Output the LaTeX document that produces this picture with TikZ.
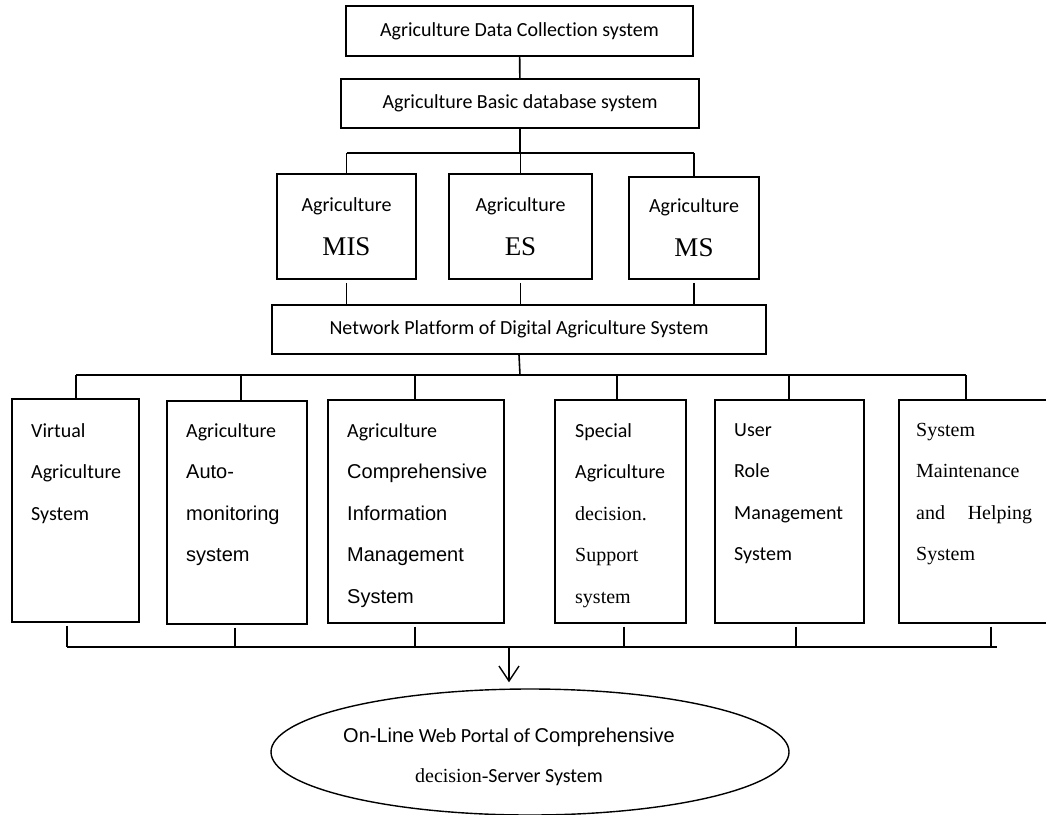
\documentclass[tikz,border=0pt]{standalone}
\usepackage{fontspec}
\setmainfont{Carlito}[Ligatures=NoCommon]
\newfontfamily\arialfont{Liberation Sans}
\newfontfamily\timesfont{Liberation Serif}
\usetikzlibrary{arrows.meta,calc,shapes.geometric,positioning}
\tikzset{
    box/.style={draw, line width=1.6pt, inner sep=0pt, align=center, font=\fontsize{20}{24}\selectfont},
    unit/.style={draw, line width=1.6pt, inner sep=0pt, minimum height=223pt, anchor=north west},
    unittext/.style={anchor=north west, inner sep=0pt, align=left, font=\fontsize{20}{41.5}\selectfont},
    link/.style={line width=1.6pt},
}
\newcommand{\bigabbr}[1]{{\timesfont\fontsize{27}{30}\selectfont #1}}

\begin{document}
\begin{tikzpicture}[x=1pt,y=-1pt]

    \useasboundingbox (0,0) rectangle (1046,814);

    % top chain
    \node[box, minimum width=347pt, minimum height=50pt] (collect) at (519.5,31) {Agriculture Data Collection system};
    \node[box, minimum width=358pt, minimum height=49pt] (basic) at (520,103.5) {Agriculture Basic database system};

    \node[box, minimum width=139pt, minimum height=105pt] (mis) at (346.5,226.5) {Agriculture\\[20pt]\bigabbr{MIS}};
    \node[box, minimum width=143pt, minimum height=105pt] (es) at (520.5,226.5) {Agriculture\\[20pt]\bigabbr{ES}};
    \node[box, minimum width=130pt, minimum height=102pt] (ms) at (694,228) {Agriculture\\[20pt]\bigabbr{MS}};

    \node[box, minimum width=494pt, minimum height=49pt] (net) at (519,329.5) {Network Platform of Digital Agriculture System};

    \draw[link] (collect) -- (basic);

    % bus to the three systems
    \coordinate (tb) at (520,153);
    \draw[link] (basic.south) -- (tb);
    \draw[link] (tb -| mis.north) -- (tb -| ms.north);
    \foreach \n in {mis,es,ms}
        \draw[link] (tb -| \n.north) -- (\n.north);
    \foreach \n in {mis,es,ms}
        \draw[link,shorten <=3pt] (\n.south) -- (\n.south |- net.north);

    % the six subsystems
    \node[unit, minimum width=127pt] (virt) at (11,398) {};
    \node[unit, minimum width=140pt] (auto) at (166,400) {};
    \node[unit, minimum width=176pt] (info) at (327,399) {};
    \node[unit, minimum width=131pt] (spec) at (554,399) {};
    \node[unit, minimum width=149pt] (user) at (714,399) {};
    \node[unit, minimum width=160pt] (maint) at (898,399) {};

    \node[unittext] (virt-t) at ($(virt.north west)+(20,25)$) {Virtual\\Agriculture\\System};
    \node[unittext] (auto-t) at ($(auto.north west)+(20,23)$) {Agriculture\\\arialfont Auto-\\\arialfont monitoring\\\arialfont system};
    \node[unittext] (info-t) at ($(info.north west)+(20,24)$) {Agriculture\\\arialfont Comprehensive\\\arialfont Information\\\arialfont Management\\\arialfont System};
    \node[unittext] (spec-t) at ($(spec.north west)+(21,24)$) {Special\\Agriculture\\\timesfont decision.\\\timesfont Support\\\timesfont system};
    \node[unittext] (user-t) at ($(user.north west)+(20,24)$) {User\\Role\\Management\\System};
    \node[unittext] (maint-t) at ($(maint.north west)+(18,24)$) {\timesfont System\\\timesfont Maintenance\\\timesfont\makebox[116pt][s]{and Helping}\\\timesfont System};

    % bus to the six subsystems
    \coordinate (mb) at (520,375);
    \draw[link] (net.south) -- (mb);
    \draw[link] (76,375) -- (966,375);
    \foreach \n/\x in {virt/76, auto/241, info/415, spec/617, user/789, maint/966}
        \draw[link] (\x,375) -- (\x,375 |- \n.north);

    % bus to the portal
    \coordinate (out) at (509,647);
    \draw[link] (67,647) -- (997,647);
    \foreach \n/\x in {virt/67, auto/235, info/415, spec/624, user/796, maint/991}
        \draw[link,shorten <=3pt] (\x,647 |- \n.south) -- (\x,647);

    \node[draw, ellipse, line width=1.4pt, inner sep=0pt, minimum width=518pt, minimum height=126pt] (portal) at (530,752) {};
    \node[align=center, font=\fontsize{20}{40}\selectfont] (portal-t) at (509,757) {{\arialfont On-Line} Web Portal of {\arialfont Comprehensive}\\{\timesfont decision-}Server System};

    \draw[line width=1.4pt, -{Straight Barb[length=15pt,width=20pt]}, shorten >=6pt] (out) -- (out |- portal.north);

\end{tikzpicture}
\end{document}
